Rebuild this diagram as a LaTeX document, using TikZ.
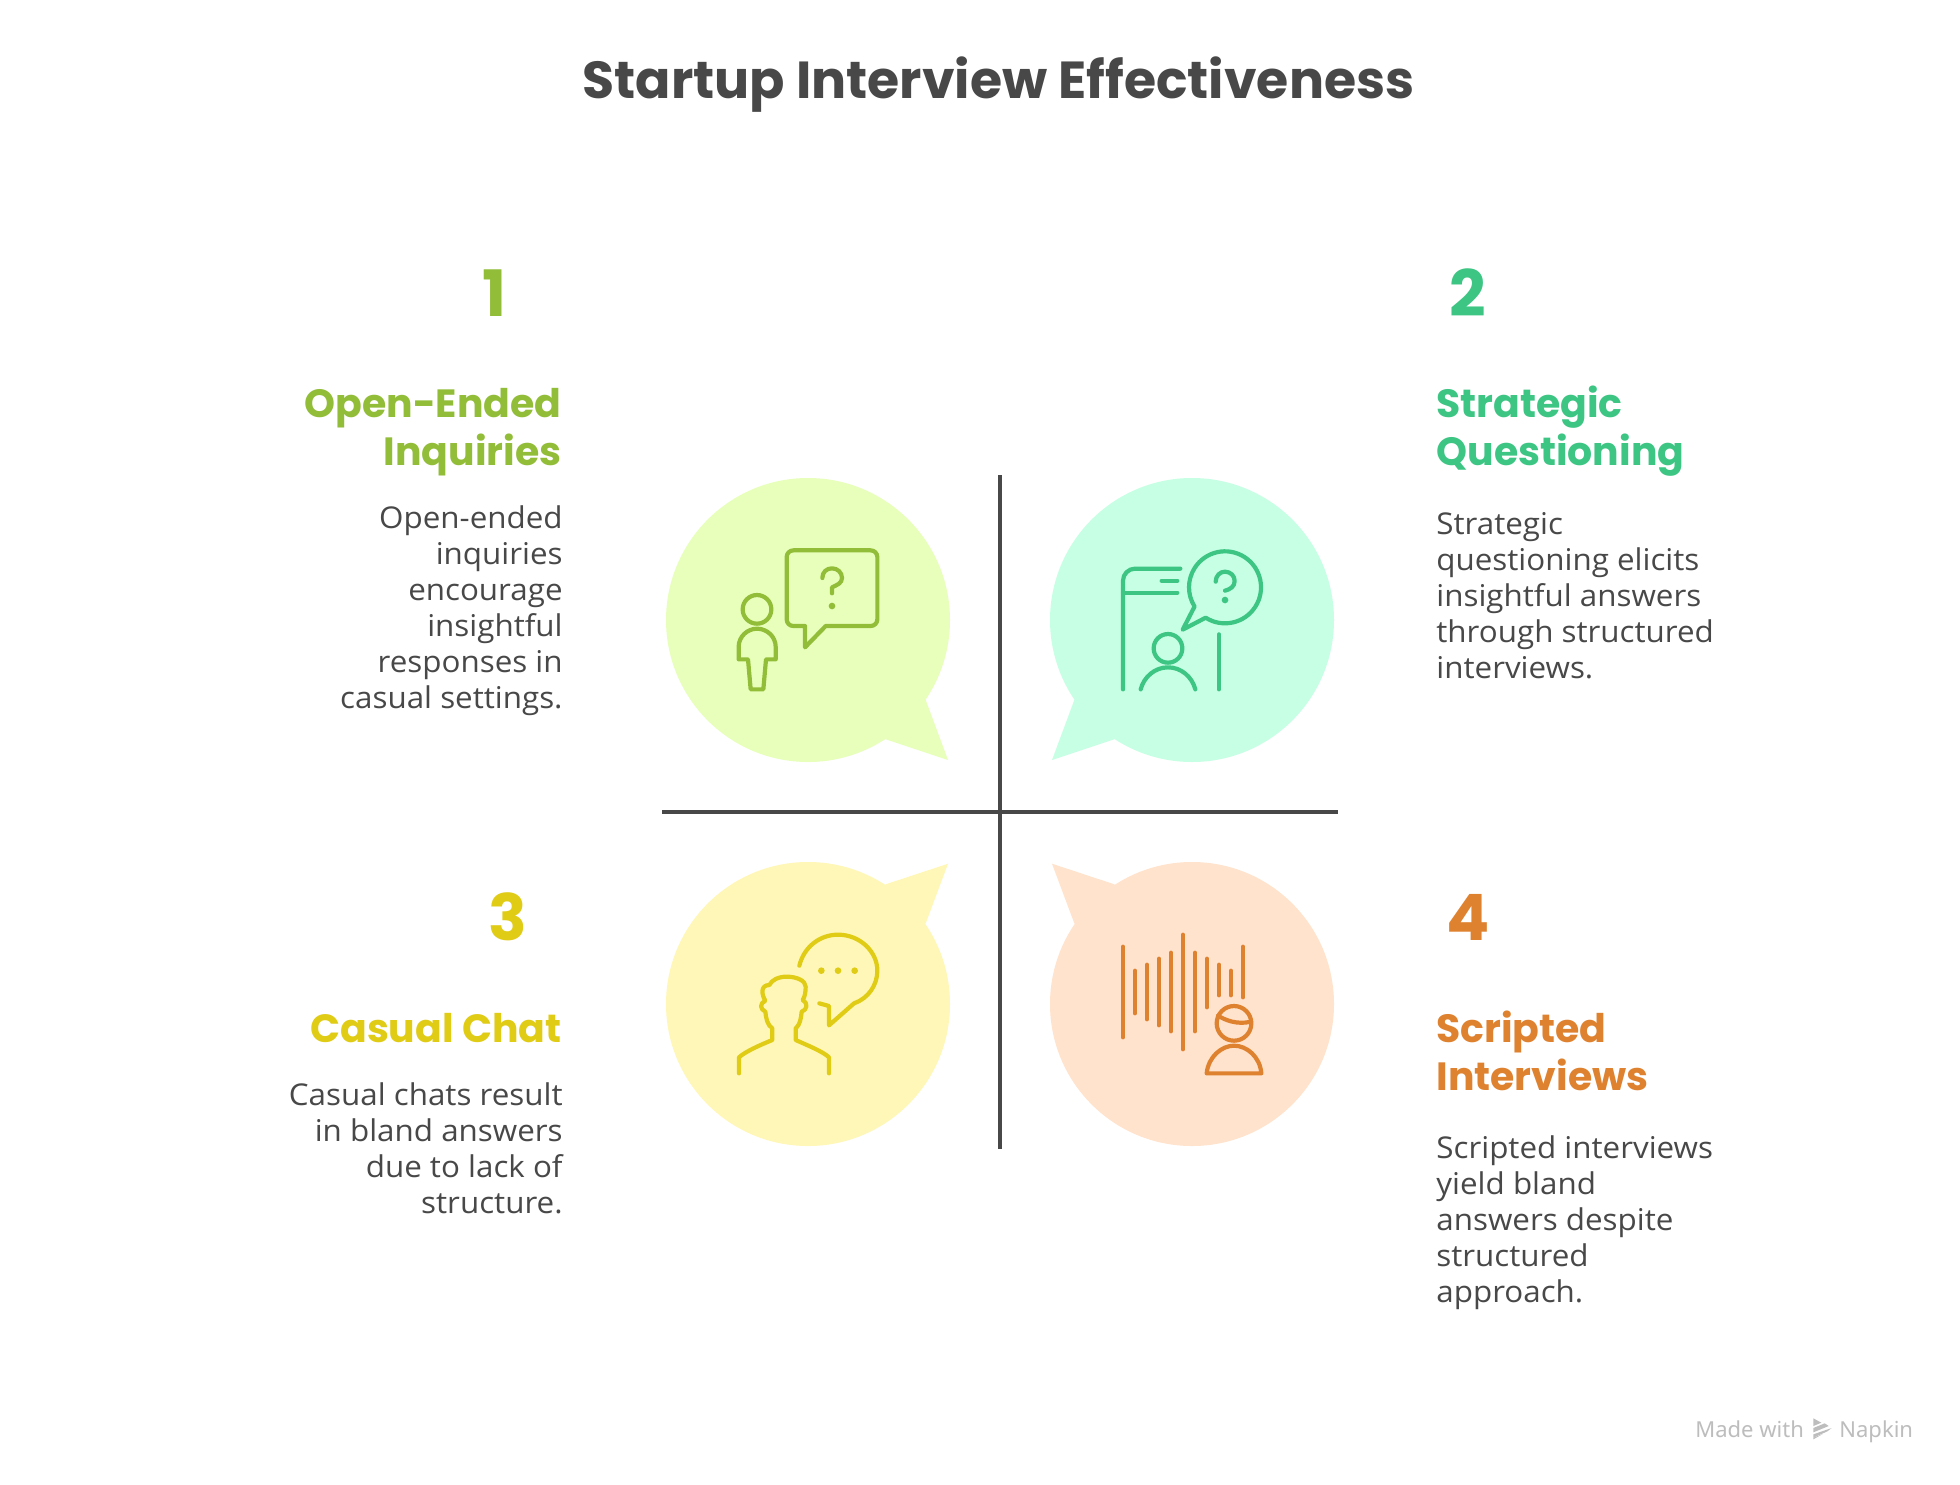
\documentclass[tikz,border=0pt]{standalone}
\usepackage{fontspec}
\setmainfont{Open Sans}[FakeStretch=1.045]
\newfontfamily\headfam{Poppins}
\newfontfamily\footfont{Noto Sans}
\definecolor{ink}{HTML}{484848}
\definecolor{cgreen}{HTML}{92BD39}
\definecolor{cteal}{HTML}{3CC583}
\definecolor{cyellow}{HTML}{E0CB15}
\definecolor{corange}{HTML}{DF8230}
\definecolor{fgreen}{HTML}{E8FFBC}
\definecolor{fteal}{HTML}{C7FFE4}
\definecolor{fyellow}{HTML}{FFF7B8}
\definecolor{forange}{HTML}{FFE3CC}
\definecolor{cfoot}{HTML}{BDBDBD}
\tikzset{
  titletext/.style={inner sep=0,text=ink,font=\headfam\bfseries\fontsize{26.05}{30}\selectfont},
  numtext/.style={inner sep=0,font=\headfam\bfseries\fontsize{32}{36}\selectfont},
  headtext/.style={inner sep=0,font=\headfam\bfseries\fontsize{19.7}{24}\selectfont},
  bodytext/.style={inner sep=0,text=ink,font=\fontsize{15}{18}\selectfont},
  foottext/.style={inner sep=0,text=cfoot,font=\footfont\fontsize{11}{13}\selectfont},
  axisline/.style={draw=ink,line width=2pt},
  iconline/.style={line width=2.1pt,line cap=round,line join=round},
  zoomed/.style={x=0.166667pt,y=-0.166667pt},
}
\begin{document}
\begin{tikzpicture}[x=0.5pt,y=-0.5pt]
\useasboundingbox (0,0) rectangle (1960,1484);
\fill[white] (0,0) rectangle (1960,1484);

% bubbles
\fill[fgreen] (808,620) circle[radius=142];
\fill[fgreen] (948,760) -- (885.7,739.3) -- (808,620) -- (925.7,700) -- cycle;
\fill[fteal] (1192,620) circle[radius=142];
\fill[fteal] (1052,760) -- (1114.3,739.3) -- (1192,620) -- (1074.3,700) -- cycle;
\fill[fyellow] (808,1004) circle[radius=142];
\fill[fyellow] (948,863.7) -- (885.7,884.3) -- (808,1004) -- (925.7,923.3) -- cycle;
\fill[forange] (1192,1004) circle[radius=142];
\fill[forange] (1052,863.7) -- (1114.3,884.3) -- (1192,1004) -- (1074.3,923.3) -- cycle;

% axes
\coordinate (vtop) at (1000,475);
\coordinate (vbot) at (1000,1149);
\coordinate (hleft) at (662,812);
\coordinate (hright) at (1338,812);
\draw[axisline] (vtop) -- (vbot);
\draw[axisline] (hleft) -- (hright);

% icon 1
\begin{scope}[shift={(660,470)},zoomed,iconline,draw=cgreen]
  \draw (400,241) -- (632,241) arc[start angle=-90,end angle=0,radius=20] -- (652,448) arc[start angle=0,end angle=90,radius=20] -- (497,468) -- (435,532) -- (435,468) -- (400,468) arc[start angle=90,end angle=180,radius=20] -- (380,261) arc[start angle=180,end angle=270,radius=20] -- cycle;
  \draw (487,324) .. controls (487,306) and (500,295) .. (516,295) .. controls (533,295) and (546,308) .. (546,324) .. controls (546,340) and (530,345) .. (516,352) -- (516,370);
  \fill[cgreen] (516,408) circle[radius=10];
  \draw (291,418) circle[radius=43];
  \draw (236,568) -- (236,530) .. controls (236,500) and (262,476) .. (291,476) .. controls (321,476) and (347,500) .. (347,530) -- (347,568) -- (318,568) -- (310,658) -- (272,658) -- (264,568) -- cycle;
\end{scope}

% icon 2
\begin{scope}[shift={(1040,470)},zoomed,iconline,draw=cteal]
  \draw (249,658) -- (249,332) arc[start angle=180,end angle=270,radius=36] -- (421,296);
  \draw (365,332) -- (412,332);
  \draw (249,368) -- (412,368);
  \draw (537,493) -- (537,658);
  \draw (497,443) arc[start angle=122.5,end angle=-212.2,radius=108] -- (428,479) -- cycle;
  \draw (527,335) .. controls (527,317) and (540,305) .. (555,305) .. controls (572,305) and (584,318) .. (584,333) .. controls (584,350) and (570,358) .. (555,362);
  \fill[cteal] (555,390) circle[radius=10];
  \draw (384,535) circle[radius=43];
  \draw (302,658) .. controls (312,620) and (345,592) .. (384,592) .. controls (423,592) and (456,620) .. (466,658);
\end{scope}

% icon 3
\begin{scope}[shift={(660,850)},zoomed,iconline,draw=cyellow]
  \draw (418,347) .. controls (432,290) and (480,254) .. (534,254) .. controls (600,254) and (652,305) .. (652,362) .. controls (652,405) and (625,445) .. (582,460) -- (507,526) -- (507,468) -- (478,460);
  \fill[cyellow] (484,362) circle[radius=10] (534,362) circle[radius=10] (584,362) circle[radius=10];
  \draw (237,670) -- (237,622) .. controls (255,605) and (300,585) .. (337,570) -- (337,535) .. controls (322,525) and (318,505) .. (316,485) .. controls (300,478) and (298,460) .. (316,452) .. controls (305,435) and (300,405) .. (328,405) .. controls (335,390) and (355,380) .. (380,380) .. controls (410,380) and (437,392) .. (437,410) .. controls (437,425) and (435,440) .. (428,450) .. controls (445,458) and (442,480) .. (425,485) .. controls (423,505) and (420,525) .. (407,535) -- (407,570) .. controls (440,585) and (490,605) .. (507,622) -- (507,670);
\end{scope}

% icon 4
\begin{scope}[shift={(1040,850)},zoomed,iconline,draw=corange]
  \draw (249,290) -- (249,562);
  \draw (285,362) -- (285,490);
  \draw (321,344) -- (321,508);
  \draw (357,326) -- (357,526);
  \draw (393,308) -- (393,544);
  \draw (429,254) -- (429,598);
  \draw (465,308) -- (465,544);
  \draw (501,326) -- (501,472);
  \draw (537,344) -- (537,436);
  \draw (573,362) -- (573,436);
  \draw (609,290) -- (609,442);
  \draw (582,520) circle[radius=52];
  \draw (534,497) .. controls (555,510) and (590,525) .. (633,515);
  \draw (500,670) -- (664,670) .. controls (660,620) and (620,587) .. (582,587) .. controls (545,587) and (505,620) .. (500,670) -- cycle;
\end{scope}

% title
\node[titletext,anchor=base] (title) at (998.5,98) {Startup Interview Effectiveness};

% numbers
\node[numtext,anchor=base,text=cgreen] (num1) at (495,316) {1};
\node[numtext,anchor=base,text=cteal] (num2) at (1468,316) {2};
\node[numtext,anchor=base,text=cyellow] (num3) at (508,940) {3};
\node[numtext,anchor=base,text=corange] (num4) at (1468,940) {4};

% headings (anchored on the last line's baseline)
\node[headtext,anchor=base east,align=right,text=cgreen] (head1) at (562,465) {Open-Ended\\Inquiries};
\node[headtext,anchor=base west,align=left,text=cteal] (head2) at (1436,465) {Strategic\\Questioning};
\node[headtext,anchor=base east,align=right,text=cyellow] (head3) at (562,1042) {Casual Chat};
\node[headtext,anchor=base west,align=left,text=corange] (head4) at (1436,1090) {Scripted\\Interviews};

% bodies (anchored on the last line's baseline)
\node[bodytext,anchor=base east,align=right] (body1) at (563,708) {Open-ended\\inquiries\\encourage\\insightful\\responses in\\casual settings.};
\node[bodytext,anchor=base west,align=left] (body2) at (1436,678) {Strategic\\questioning elicits\\insightful answers\\through structured\\interviews.};
\node[bodytext,anchor=base east,align=right] (body3) at (563,1213) {Casual chats result\\in bland answers\\due to lack of\\structure.};
\node[bodytext,anchor=base west,align=left] (body4) at (1436,1302) {Scripted interviews\\yield bland\\answers despite\\structured\\approach.};

% footer
\node[foottext,anchor=base west] (made) at (1695,1437) {Made with};
\node[foottext,anchor=base west] (napkin) at (1839,1437) {Napkin};
\begin{scope}[shift={(1670,1400)},zoomed]
  \fill[cfoot] (430,55) -- (454,68) -- (430,78) -- cycle;
  \fill[cfoot] (430,84) -- (464,70) -- (476,78) -- (430,97) -- cycle;
  \fill[cfoot] (430,103) -- (485,84) -- (472,94) -- (430,113) -- cycle;
  \fill[cfoot] (430,118) -- (458,102) -- (430,113) -- cycle;
\end{scope}
\end{tikzpicture}
\end{document}
